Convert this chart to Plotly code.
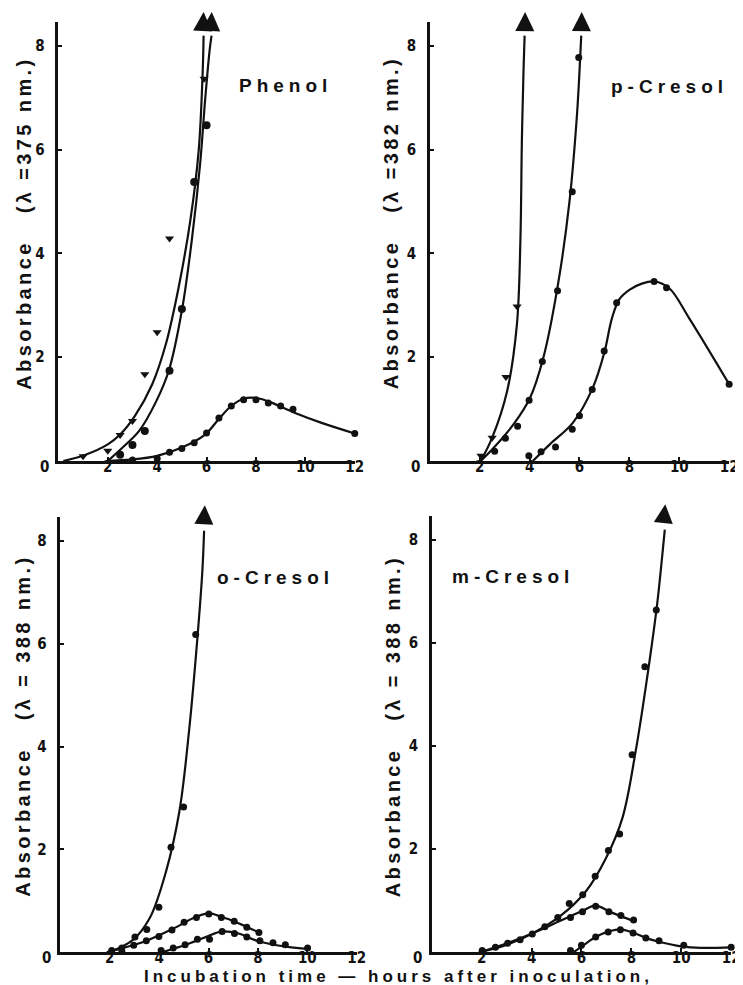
import plotly.graph_objects as go

W, H = 743, 985

# ---------------- data ----------------
# Phenol
ph_tri_x = [1.0, 2.0, 2.5, 3.0, 3.5, 4.0, 4.5, 5.9]
ph_tri_y = [0.09, 0.2, 0.5, 0.77, 1.67, 2.48, 4.29, 7.37]
ph_a_cx = [0.2, 1.1, 2.0, 2.5, 3.1, 3.8, 4.35, 4.87, 5.34, 5.68, 5.84, 5.88]
ph_a_cy = [0.0, 0.12, 0.32, 0.51, 0.87, 1.48, 2.25, 3.35, 4.63, 5.98, 7.46, 8.2]
ph_cir_x = [2.5, 3.0, 3.5, 4.5, 5.0, 5.5, 6.0]
ph_cir_y = [0.12, 0.31, 0.58, 1.74, 2.93, 5.38, 6.47]
ph_b_cx = [2.0, 2.6, 3.27, 3.94, 4.47, 5.0, 5.4, 5.74, 5.94, 6.12, 6.2]
ph_b_cy = [0.0, 0.26, 0.58, 1.13, 1.74, 2.9, 4.25, 5.73, 6.95, 7.9, 8.2]
ph_bell_x = [3.0, 4.0, 4.5, 5.0, 5.5, 6.0, 6.5, 7.0, 7.5, 8.0, 8.5, 9.0, 9.5, 12.0]
ph_bell_y = [0.02, 0.05, 0.17, 0.24, 0.35, 0.54, 0.83, 1.06, 1.18, 1.18, 1.12, 1.06, 1.0, 0.53]
ph_c_cx = [1.93, 3.0, 4.0, 5.0, 5.94, 6.48, 7.0, 7.55, 8.08, 8.6, 9.56, 10.63, 12.0]
ph_c_cy = [0.0, 0.03, 0.1, 0.26, 0.51, 0.8, 1.06, 1.21, 1.21, 1.13, 0.93, 0.74, 0.53]
ph_arrow_x = [5.88, 6.21]
ph_arrow_y = [8.5, 8.5]

# p-Cresol
pc_tri_x = [2.05, 2.5, 3.05, 3.5]
pc_tri_y = [0.1, 0.45, 1.62, 2.98]
pc_a_cx = [2.04, 2.5, 3.1, 3.49, 3.63, 3.69, 3.76, 3.8]
pc_a_cy = [0.0, 0.45, 1.35, 2.63, 4.24, 6.17, 7.6, 8.2]
pc_cir_x = [2.6, 3.03, 3.52, 3.98, 4.51, 5.12, 5.71, 5.97]
pc_cir_y = [0.19, 0.44, 0.67, 1.17, 1.92, 3.28, 5.19, 7.78]
pc_b_cx = [2.04, 2.57, 3.36, 4.02, 4.55, 5.14, 5.6, 5.9, 6.03, 6.07]
pc_b_cy = [0.0, 0.26, 0.71, 1.22, 1.99, 3.41, 5.01, 6.68, 7.8, 8.2]
pc_bell_x = [3.97, 4.46, 5.04, 5.71, 6.0, 6.51, 6.99, 7.49, 8.99, 9.49, 12.0]
pc_bell_y = [0.1, 0.18, 0.27, 0.61, 0.87, 1.38, 2.12, 3.05, 3.46, 3.34, 1.48]
pc_c_cx = [4.13, 4.81, 5.74, 6.53, 7.0, 7.3, 7.6, 8.0, 8.5, 9.0, 9.6, 10.4, 12.0]
pc_c_cy = [0.0, 0.32, 0.74, 1.41, 2.1, 2.75, 3.12, 3.3, 3.42, 3.46, 3.33, 2.75, 1.48]
pc_arrow_x = [3.82, 6.09]
pc_arrow_y = [8.5, 8.5]

# o-Cresol
oc_a_x = [2.08, 2.49, 3.02, 3.5, 3.99, 4.48, 4.99, 5.48]
oc_a_y = [0.03, 0.08, 0.29, 0.44, 0.87, 2.04, 2.82, 6.18]
oc_a_cx = [2.02, 2.95, 3.62, 4.28, 4.82, 5.21, 5.55, 5.75, 5.82]
oc_a_cy = [0.0, 0.24, 0.66, 1.57, 2.74, 4.3, 6.12, 7.42, 8.2]
oc_b_x = [2.49, 2.97, 3.48, 3.99, 4.52, 5.01, 5.51, 6.01, 6.52, 7.04, 7.55, 8.04]
oc_b_y = [0.01, 0.13, 0.22, 0.3, 0.43, 0.58, 0.67, 0.74, 0.67, 0.6, 0.48, 0.38]
oc_b_cx = [1.89, 2.55, 3.49, 4.55, 5.48, 6.01, 6.55, 7.21, 8.08]
oc_b_cy = [0.0, 0.08, 0.22, 0.45, 0.68, 0.75, 0.68, 0.56, 0.37]
oc_c_x = [4.08, 4.57, 5.05, 5.55, 6.04, 6.55, 7.05, 7.55, 8.08, 8.61, 9.11, 10.01]
oc_c_y = [0.03, 0.08, 0.14, 0.25, 0.25, 0.4, 0.36, 0.29, 0.22, 0.18, 0.14, 0.08]
oc_c_cx = [4.15, 5.08, 5.88, 6.55, 7.21, 8.01, 9.2, 10.0]
oc_c_cy = [0.0, 0.14, 0.29, 0.4, 0.36, 0.21, 0.1, 0.06]
oc_arrow_x = [5.85]
oc_arrow_y = [8.54]

# m-Cresol
mc_a_x = [2.02, 2.55, 3.04, 3.54, 4.03, 4.53, 5.05, 5.51, 6.05, 6.55, 7.08, 7.53, 8.03, 8.54, 9.0]
mc_a_y = [0.03, 0.09, 0.17, 0.24, 0.35, 0.49, 0.67, 0.94, 1.11, 1.47, 1.97, 2.29, 3.83, 5.54, 6.64]
mc_a_cx = [1.96, 3.01, 4.07, 5.13, 6.18, 6.98, 7.64, 8.17, 8.63, 9.03, 9.29, 9.34]
mc_a_cy = [0.0, 0.14, 0.37, 0.69, 1.18, 1.82, 2.6, 3.89, 5.32, 6.74, 7.95, 8.2]
mc_b_x = [5.56, 6.04, 6.57, 7.1, 7.58, 8.09]
mc_b_y = [0.67, 0.78, 0.89, 0.78, 0.71, 0.62]
mc_b_cx = [1.96, 3.01, 4.07, 5.13, 6.05, 6.55, 7.24, 8.1]
mc_b_cy = [0.0, 0.17, 0.37, 0.6, 0.8, 0.9, 0.76, 0.6]
mc_c_x = [5.56, 6.0, 6.57, 7.07, 7.56, 8.07, 8.58, 9.11, 10.1, 12.0]
mc_c_y = [0.03, 0.13, 0.29, 0.39, 0.43, 0.37, 0.27, 0.22, 0.13, 0.09]
mc_c_cx = [5.7, 6.1, 6.6, 7.1, 7.56, 8.1, 8.6, 9.1, 10.0, 10.8, 12.0]
mc_c_cy = [0.0, 0.14, 0.3, 0.4, 0.44, 0.37, 0.27, 0.2, 0.11, 0.08, 0.09]
mc_arrow_x = [9.36]
mc_arrow_y = [8.54]

x_ticks = [2, 4, 6, 8, 10, 12]
y_ticks = [2, 4, 6, 8]

titles = ["Phenol", "p-Cresol", "o-Cresol", "m-Cresol"]
ytitles = ["Absorbance   (λ =375 nm.)", "Absorbance   (λ =382 nm.)",
           "Absorbance   (λ = 388 nm.)", "Absorbance   (λ = 388 nm.)"]
xtitle = "Incubation time — hours after inoculation,"

# ---------------- layout helpers ----------------
FONT = "Liberation Sans, Arial, DejaVu Sans, sans-serif"
TICKFONT = "Liberation Sans Narrow, DejaVu Sans Condensed, Liberation Sans, sans-serif"
BLACK = "#111111"

# pixel geometry of each panel: (x0px, x12px, y0px, y8px)
geo = [(51, 351, 453, 38), (427, 730, 453, 38), (53, 353, 944, 533), (429, 732, 944, 532)]
YMAX = 8.47
ARROW_TIP_PX = 8.0  # the arrow-up symbol draws its tip this far below its anchor point

fig = go.Figure()

def add_line(i, xs, ys):
    fig.add_trace(go.Scatter(x=xs, y=ys, mode="lines", xaxis=f"x{i+1}", yaxis=f"y{i+1}",
                             line=dict(color=BLACK, width=2.2, shape="spline", smoothing=1.0),
                             hoverinfo="skip", showlegend=False, cliponaxis=False))

def add_pts(i, xs, ys, sym="circle", size=7):
    fig.add_trace(go.Scatter(x=xs, y=ys, mode="markers", xaxis=f"x{i+1}", yaxis=f"y{i+1}",
                             marker=dict(color=BLACK, size=size, symbol=sym, line=dict(width=0)),
                             showlegend=False, cliponaxis=False))

def add_arrow(i, xs, ys, ang=3):
    # plotted on a hidden, same-scale axis that extends a little above the panel
    x0, x12, y0, y8 = geo[i]
    ppu = (y0 - y8) / 8.0
    ys_adj = [v + ARROW_TIP_PX / ppu for v in ys]
    fig.add_trace(go.Scatter(x=xs, y=ys_adj, mode="markers", xaxis=f"x{i+1}", yaxis=f"y{i+5}",
                             marker=dict(color=BLACK, size=19, symbol="arrow-up", angle=ang,
                                         line=dict(width=0)),
                             showlegend=False, cliponaxis=False))

# Phenol
add_line(0, ph_a_cx, ph_a_cy); add_line(0, ph_b_cx, ph_b_cy); add_line(0, ph_c_cx, ph_c_cy)
add_pts(0, ph_tri_x, ph_tri_y, "triangle-down", 8)
add_pts(0, ph_cir_x, ph_cir_y, "circle", 8)
add_pts(0, ph_bell_x, ph_bell_y)
add_arrow(0, ph_arrow_x, ph_arrow_y)
# p-Cresol
add_line(1, pc_a_cx, pc_a_cy); add_line(1, pc_b_cx, pc_b_cy); add_line(1, pc_c_cx, pc_c_cy)
add_pts(1, pc_tri_x, pc_tri_y, "triangle-down", 8)
add_pts(1, pc_cir_x, pc_cir_y)
add_pts(1, pc_bell_x, pc_bell_y)
add_arrow(1, pc_arrow_x, pc_arrow_y, 1)
# o-Cresol
add_line(2, oc_a_cx, oc_a_cy); add_line(2, oc_b_cx, oc_b_cy); add_line(2, oc_c_cx, oc_c_cy)
add_pts(2, oc_a_x, oc_a_y); add_pts(2, oc_b_x, oc_b_y); add_pts(2, oc_c_x, oc_c_y)
add_arrow(2, oc_arrow_x, oc_arrow_y)
# m-Cresol
add_line(3, mc_a_cx, mc_a_cy); add_line(3, mc_b_cx, mc_b_cy); add_line(3, mc_c_cx, mc_c_cy)
add_pts(3, mc_a_x, mc_a_y); add_pts(3, mc_b_x, mc_b_y); add_pts(3, mc_c_x, mc_c_y)
add_arrow(3, mc_arrow_x, mc_arrow_y, 6)

layout = dict(width=W, height=H, margin=dict(l=0, r=0, t=0, b=0), autosize=False,
              paper_bgcolor="white", plot_bgcolor="rgba(0,0,0,0)", showlegend=False)

for i, (x0, x12, y0, y8) in enumerate(geo):
    xd = [x0 / W, x12 / W]
    ppu = (y0 - y8) / 8.0
    ytop = y0 - YMAX * ppu
    yd = [1 - y0 / H, 1 - ytop / H]
    ext = min(30.0, ytop - 0.5)
    ax = dict(domain=xd, range=[0, 12], tickvals=x_ticks, ticktext=[str(v) for v in x_ticks],
              showline=True, linecolor=BLACK, linewidth=2.5, ticks="inside", ticklen=4,
              tickwidth=2, tickcolor=BLACK, showgrid=False, zeroline=False,
              tickfont=dict(family=TICKFONT, size=15, color=BLACK, weight="bold"),
              ticklabelstandoff=-10, anchor=f"y{i+1}", fixedrange=True)
    ay = dict(domain=yd, range=[0, YMAX], tickvals=y_ticks, ticktext=[str(v) for v in y_ticks],
              showline=True, linecolor=BLACK, linewidth=2.5, ticks="inside", ticklen=4,
              tickwidth=2, tickcolor=BLACK, showgrid=False, zeroline=False,
              tickfont=dict(family=TICKFONT, size=15, color=BLACK, weight="bold"),
              ticklabelstandoff=8, anchor=f"x{i+1}", fixedrange=True)
    # hidden axis with the same scale, extended upward for the arrow heads
    ay_ext = dict(domain=[yd[0], min(1.0, 1 - (ytop - ext) / H)], range=[0, YMAX + ext / ppu],
                  visible=False, anchor=f"x{i+1}", fixedrange=True)
    layout["xaxis" if i == 0 else f"xaxis{i+1}"] = ax
    layout["yaxis" if i == 0 else f"yaxis{i+1}"] = ay
    layout[f"yaxis{i+5}"] = ay_ext

fig.update_layout(**layout)

def px_ann(text, xpx, ypx, size, angle=0, spacing=0, xanchor="center"):
    t = f'<span style="letter-spacing:{spacing}px">{text}</span>' if spacing else text
    fig.add_annotation(text=t, x=xpx / W, y=1 - ypx / H, xref="paper", yref="paper",
                       xanchor=xanchor, yanchor="middle", showarrow=False, textangle=angle,
                       font=dict(family=FONT, size=size, color=BLACK, weight="bold"))

# panel titles
px_ann(titles[0], 281, 77, 19, spacing=5)
px_ann(titles[1], 670, 78, 19, spacing=5)
px_ann(titles[2], 271, 569, 19, spacing=5)
px_ann(titles[3], 511, 568, 19, spacing=5)
# y titles
px_ann(ytitles[0], 16, 215, 20, angle=-90, spacing=3.4)
px_ann(ytitles[1], 388, 215, 20, angle=-90, spacing=3.4)
px_ann(ytitles[2], 15, 718, 20, angle=-90, spacing=3.4)
px_ann(ytitles[3], 390, 718, 20, angle=-90, spacing=3.4)
# shared "0" labels at the origins
for (x0, x12, y0, y8) in geo:
    fig.add_annotation(text="0", x=x0 / W, y=1 - y0 / H, xref="paper", yref="paper",
                       xanchor="center", yanchor="middle", xshift=-14, yshift=-6,
                       showarrow=False,
                       font=dict(family=TICKFONT, size=15, color=BLACK, weight="bold"))
# x title
px_ann(xtitle, 395, 968, 17, spacing=4)

fig.write_html("out.html")
